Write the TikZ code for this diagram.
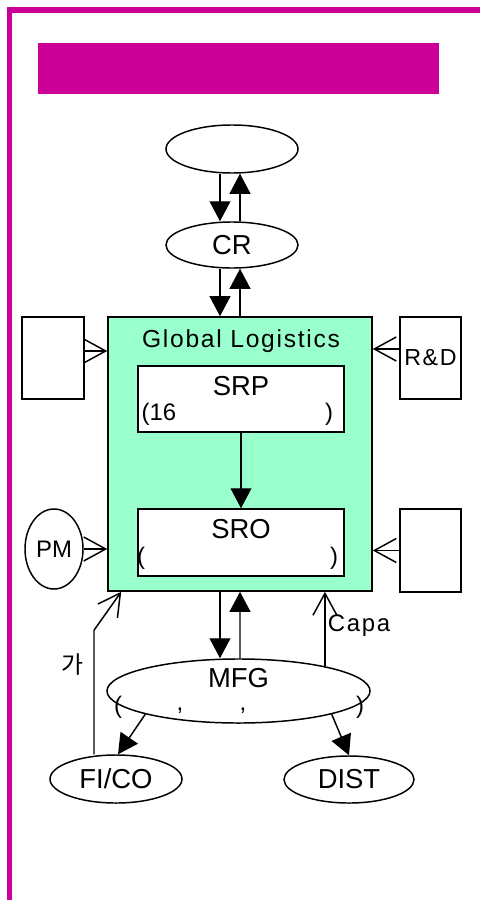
\documentclass[tikz,border=0pt]{standalone}
\usepackage{fontspec}
\setmainfont{Liberation Sans}
\newfontfamily\spacedfont{Liberation Sans}[LetterSpace=7]
\newfontfamily\krfont{Noto Sans CJK KR}
\usetikzlibrary{calc,arrows.meta,shapes.geometric}
\definecolor{framepink}{RGB}{204,0,153}
\definecolor{mint}{RGB}{153,255,204}

\begin{document}
\begin{tikzpicture}[x=0.025cm,y=-0.025cm,line width=1.05pt,
	oval/.style={draw,ellipse,inner sep=0pt},
	block/.style={draw,rectangle,inner sep=0pt},
	fat/.style={-{Triangle[length=0.5cm,width=0.52cm]}},
	barb/.style={-{Straight Barb[length=0.55cm,width=0.6cm]}},
	big/.style={font=\fontsize{19.5}{22}\selectfont},
	small/.style={inner sep=0pt,font=\fontsize{17}{19}\selectfont}]
	\useasboundingbox (0,0) rectangle (480,900);
	% frame and title bar
	\fill[framepink] (7,7) rectangle (480,13);
	\fill[framepink] (7,7) rectangle (12,900);
	\fill[framepink] (38,43) rectangle (439,94);

	\node[oval,minimum width=3.3cm,minimum height=1.2cm] (top) at (232,149) {};
	\node[oval,big,minimum width=3.3cm,minimum height=1.15cm] (CR) at (232,245) {CR};
	\node[block,fill=mint,minimum width=6.6cm,minimum height=6.85cm] (GL) at (240,454) {};
	\node[font=\spacedfont\fontsize{17.5}{20}\selectfont] (gltext) at (241,341) {Global Logistics};
	\node[block,fill=white,minimum width=5.15cm,minimum height=1.65cm] (SRP) at (241,399) {};
	\node[big,inner sep=0pt] (srptext) at (241,386) {SRP};
	\node[small,anchor=west] (srpl) at (141,414) {(16};
	\node[small] (srpr) at (329,414) {)};
	\node[block,fill=white,minimum width=5.15cm,minimum height=1.675cm] (SRO) at (241,542.5) {};
	\node[big,inner sep=0pt] (srotext) at (241,529) {SRO};
	\node[small] (srol) at (141,558) {(};
	\node[small] (sror) at (334,558) {)};

	\node[block,minimum width=1.55cm,minimum height=2.05cm] (lbox) at (53,358) {};
	\node[block,minimum width=1.525cm,minimum height=2.05cm,font=\spacedfont\fontsize{16.5}{18}\selectfont] (RD) at (430.5,358) {R\&D};
	\node[oval,minimum width=1.45cm,minimum height=2cm,font=\fontsize{17}{20}\selectfont] (PM) at (54,549) {PM};
	\node[block,minimum width=1.525cm,minimum height=2.075cm] (rbox) at (430.5,550.5) {};

	\node[oval,minimum width=6.575cm,minimum height=1.6cm] (MFG) at (238.5,691) {};
	\node[big,inner sep=0pt] (mfgtext) at (238.5,678) {MFG};
	\node[small] (mfgl) at (118,707) {(};
	\node[small] (mfgc1) at (180,711) {,};
	\node[small] (mfgc2) at (243,711) {,};
	\node[small] (mfgr) at (360,707) {)};
	\node[oval,big,minimum width=3.3cm,minimum height=1.2cm] (FICO) at (116,779) {FI/CO};
	\node[oval,big,minimum width=3.25cm,minimum height=1.175cm] (DIST) at (349,779.5) {DIST};

	% up and down flows
	\draw[fat] ($(top.south)+(-12,0)$) -- ($(CR.north)+(-12,0)$);
	\draw[fat] ($(CR.north)+(8,0)$) -- ($(top.south)+(8,0)$);
	\draw[fat] ($(CR.south)+(-12,0)$) -- ($(GL.north)+(-20,0)$);
	\draw[fat] (GL.north) -- ($(CR.south)+(8,0)$);
	\draw[fat] (SRP.south) -- (SRO.north);
	\draw[fat] ($(GL.south)+(-20,0)$) -- ($(MFG.north)+(-18.5,0)$);
	\draw[fat] ($(MFG.north)+(1.5,0)$) -- (GL.south);
	\draw[fat] (MFG.194) -- ($(FICO.north)+(2,0)$);
	\draw[fat] (MFG.-14) -- (DIST.north);

	% side inputs
	\coordinate (lin) at ($(lbox.east)+(0,-7)$);
	\coordinate (rdin) at ($(RD.west)+(0,-9)$);
	\draw[barb] (lin) -- (lin -| GL.west);
	\draw[barb] (rdin) -- (rdin -| GL.east);
	\draw[barb] (PM.east) -- (PM.east -| GL.west);
	\draw[barb] (rbox.west) -- (rbox.west -| GL.east);
	\draw[barb] ($(FICO.north)+(-22,0)$) -- ++(0,-124) -- ($(GL.south west)+(14,0)$);
	\draw[barb] (MFG.16.4) -- (MFG.16.4 |- GL.south);
	\node[font=\krfont\fontsize{17}{20}\selectfont] (ga) at (72,665) {가};
	\node[font=\spacedfont\fontsize{17}{20}\selectfont] (capa) at (359,626) {Capa};
\end{tikzpicture}
\end{document}
